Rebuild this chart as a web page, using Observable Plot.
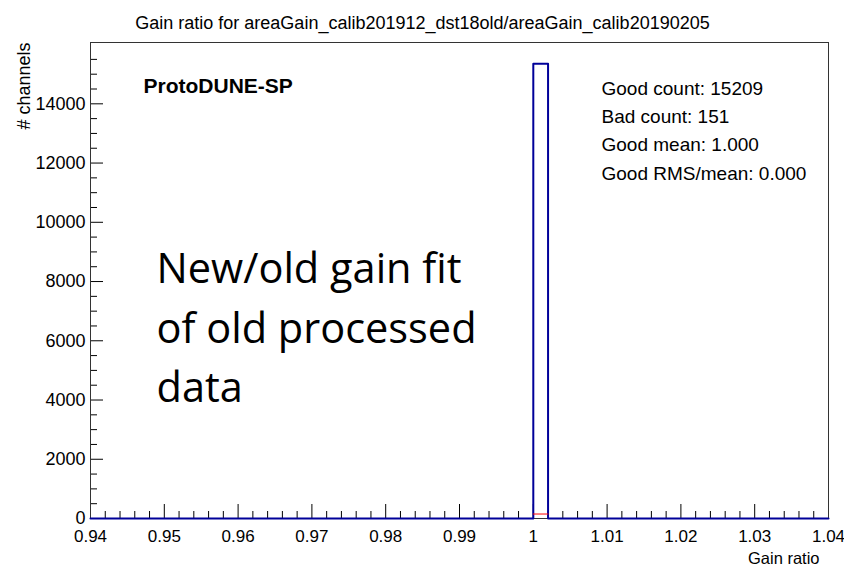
<!DOCTYPE html>
<html>
<head>
<meta charset="utf-8">
<script src="https://cdn.jsdelivr.net/npm/d3@7"></script>
<script src="https://cdn.jsdelivr.net/npm/@observablehq/plot@0.6"></script>
<style>
  body { margin: 0; background: #fff; }
  #chart svg { display: block; }
</style>
</head>
<body>
<div id="chart"></div>
<script>
// ---- data ----
const title = "Gain ratio for areaGain_calib201912_dst18old/areaGain_calib20190205";
const xLabel = "Gain ratio";
const yLabel = "# channels";
const experiment = "ProtoDUNE-SP";
const statLines = ["Good count: 15209", "Bad count: 151", "Good mean: 1.000", "Good RMS/mean: 0.000"];
const annotation = ["New/old gain fit", "of old processed", "data"];

const xDomain = [0.94, 1.04];
const yDomain = [0, 16070];
const xTicks = [0.94, 0.95, 0.96, 0.97, 0.98, 0.99, 1.00, 1.01, 1.02, 1.03, 1.04];
const yTicks = [0, 2000, 4000, 6000, 8000, 10000, 12000, 14000];
const binWidth = 0.002;

// non-empty bins (lower edge, count); all other bins are 0
const goodBinLow = [1.000];
const goodCounts = [15350];
const badBinLow = [1.000];
const badCounts = [151];

// ---- build step outlines from bins ----
function outline(lows, counts) {
  const pts = [{x: xDomain[0], y: 0}];
  lows.forEach((lo, i) => {
    pts.push({x: lo, y: 0}, {x: lo, y: counts[i]}, {x: lo + binWidth, y: counts[i]}, {x: lo + binWidth, y: 0});
  });
  pts.push({x: xDomain[1], y: 0});
  return pts;
}
const goodLine = outline(goodBinLow, goodCounts);
const badLine = badBinLow.map((lo, i) => [{x: lo, y: badCounts[i]}, {x: lo + binWidth, y: badCounts[i]}]).flat();

const W = 844, H = 567;
const mL = 90, mR = 16, mT = 42, mB = 49;
const fw = W - mL - mR, fh = H - mT - mB;

const minorX = d3.range(0, 51).map(i => xDomain[0] + i * binWidth).filter(v => !xTicks.some(t => Math.abs(t - v) < 1e-9));
const minorY = d3.range(0, 32).map(i => i * 500).filter(v => v < yDomain[1] && v % 2000 !== 0);

const font = "'Liberation Sans', Arial, Helvetica, sans-serif";

const plot = Plot.plot({
  width: W, height: H,
  marginLeft: mL, marginRight: mR, marginTop: mT, marginBottom: mB,
  style: {fontFamily: font, fontSize: "18px", color: "#000", background: "#fff"},
  x: {domain: xDomain, label: null},
  y: {domain: yDomain, label: null},
  marks: [
    Plot.axisX({ticks: xTicks, tickSize: 0, tickPadding: 11, tickFormat: d3.format("~g"), fontSize: 17, label: null}),
    Plot.axisY({ticks: yTicks, tickSize: 0, tickPadding: 5, tickFormat: d => String(d), fontSize: 18, label: null}),
    Plot.tickX(xTicks, {x: d => d, insetTop: fh - 14, stroke: "#000", strokeWidth: 1}),
    Plot.tickX(minorX, {x: d => d, insetTop: fh - 7, stroke: "#000", strokeWidth: 1}),
    Plot.tickY(yTicks, {y: d => d, insetRight: fw - 13, stroke: "#000", strokeWidth: 1}),
    Plot.tickY(minorY, {y: d => d, insetRight: fw - 7, stroke: "#000", strokeWidth: 1}),
    Plot.frame({stroke: "#333", strokeWidth: 1}),
    Plot.line(goodLine, {x: "x", y: "y", stroke: "#000099", strokeWidth: 2}),
    Plot.line(badLine, {x: "x", y: "y", stroke: "#ff0000", strokeWidth: 1}),
    Plot.text([title], {text: d => d, frameAnchor: "top-left", dx: 422 - mL, dy: -14, textAnchor: "middle", lineAnchor: "bottom", fontSize: 18, fill: "#000"}),
    Plot.text([yLabel], {text: d => d, frameAnchor: "top-left", dx: 24 - mL, dy: 0, rotate: -90, textAnchor: "end", lineAnchor: "middle", fontSize: 18, fill: "#000"}),
    Plot.text([xLabel], {text: d => d, frameAnchor: "bottom-right", dx: -9, dy: 45, textAnchor: "end", lineAnchor: "bottom", fontSize: 16.5, fill: "#000"}),
    Plot.text([experiment], {text: d => d, frameAnchor: "top-left", dx: 53, dy: 50, textAnchor: "start", lineAnchor: "bottom", fontSize: 21, fontWeight: "bold", fill: "#000"}),
    Plot.text([statLines.join("\n")], {text: d => d, frameAnchor: "top-left", dx: 511, dy: 32, textAnchor: "start", lineAnchor: "top", lineHeight: 1.49, fontSize: 19, fill: "#000"}),
    Plot.text([annotation.join("\n")], {text: d => d, frameAnchor: "top-left", dx: 66, dy: 198, textAnchor: "start", lineAnchor: "top", lineHeight: 1.44, fontSize: 41.5, fontFamily: "'Open Sans', Lato, sans-serif", fill: "#000"})
  ]
});
document.getElementById("chart").append(plot);
</script>
</body>
</html>
